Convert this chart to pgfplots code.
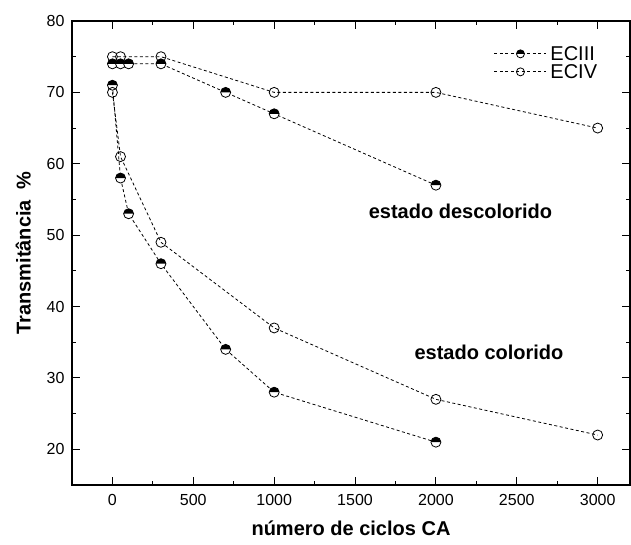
\documentclass[border=0pt]{standalone}
\usepackage{fontspec}
\setmainfont{Liberation Sans}
\usepackage{pgfplots}
\pgfplotsset{compat=1.18}

% circle with the upper half filled black, lower half white
\pgfdeclareplotmark{halfcircle}{%
  \pgfpathcircle{\pgfpointorigin}{\pgfplotmarksize}%
  \pgfsetfillcolor{white}\pgfusepath{fill}%
  \pgfpathmoveto{\pgfqpoint{\pgfplotmarksize}{0pt}}%
  \pgfpatharc{0}{180}{\pgfplotmarksize}%
  \pgfpathclose
  \pgfsetfillcolor{black}\pgfusepath{fill}%
  \pgfpathcircle{\pgfpointorigin}{\pgfplotmarksize}%
  \pgfusepath{stroke}%
}

\begin{document}
\begin{tikzpicture}
\begin{axis}[
  scale only axis,
  width=558pt, height=464pt,
  xmin=-250, xmax=3200,
  ymin=15, ymax=80,
  xtick={0,500,...,3000},
  ytick={20,30,...,80},
  minor x tick num=1,
  minor y tick num=1,
  tick align=inside,
  major tick length=8pt,
  minor tick length=4pt,
  every tick/.style={black, line width=1pt},
  axis line style={line width=2pt},
  /pgf/number format/assume math mode=true,
  /pgf/number format/1000 sep={},
  tick label style={font=\fontsize{16}{19}\selectfont},
  xticklabel style={yshift=-6pt},
  yticklabel style={xshift=-4pt},
  xlabel={\bfseries número de ciclos CA},
  ylabel={\bfseries Transmitância\ \ \%},
  label style={font=\fontsize{20}{24}\selectfont},
  xlabel style={yshift=-8pt},
  ylabel style={yshift=9pt},
  legend style={draw=none, fill=none, at={(rel axis cs:0.756,0.949)}, anchor=north west,
    font=\fontsize{20}{23}\selectfont, row sep=0pt, inner sep=0pt,
    nodes={inner sep=0pt}},
  legend cell align=left,
  legend image code/.code={%
    \draw[#1] (0pt,0pt) -- (52pt,0pt);
    \draw[#1, mark size=4pt, draw=none] plot coordinates {(26pt,0pt)};
    \path[draw=none, fill=none] (0pt,-9pt) -- (56pt,9pt);},
  clip=false,
]
\addplot[black, line width=0.8pt, dash pattern=on 3pt off 2.5pt, mark=halfcircle, mark size=5pt,
  mark options={solid, line width=0.8pt}]
  coordinates {(0,74) (50,74) (100,74) (300,74) (700,70) (1000,67) (2000,57)};
\addlegendentry{ECIII}
\addplot[black, line width=0.8pt, dash pattern=on 3pt off 2.5pt, mark=o, mark size=5pt,
  mark options={solid, fill=white, line width=0.8pt}]
  coordinates {(0,75) (50,75) (300,75) (1000,70) (2000,70) (3000,65)};
\addlegendentry{ECIV}
\addplot[black, line width=0.8pt, dash pattern=on 3pt off 2.5pt, mark=halfcircle, mark size=5pt,
  mark options={solid, line width=0.8pt}, forget plot]
  coordinates {(0,71) (50,58) (100,53) (300,46) (700,34) (1000,28) (2000,21)};
\addplot[black, line width=0.8pt, dash pattern=on 3pt off 2.5pt, mark=o, mark size=5pt,
  mark options={solid, fill=white, line width=0.8pt}, forget plot]
  coordinates {(0,70) (50,61) (300,49) (1000,37) (2000,27) (3000,22)};
\node[font=\fontsize{20}{24}\selectfont\bfseries] at (axis cs:2152,53.3) {estado descolorido};
\node[font=\fontsize{20}{24}\selectfont\bfseries] at (axis cs:2328,33.6) {estado colorido};
\end{axis}
\path (current axis.south west) ++(-72pt,-60pt) coordinate (bbA);
\path (current axis.north east) ++(1pt,21pt) coordinate (bbB);
\useasboundingbox (bbA) rectangle (bbB);
\end{tikzpicture}
\end{document}
